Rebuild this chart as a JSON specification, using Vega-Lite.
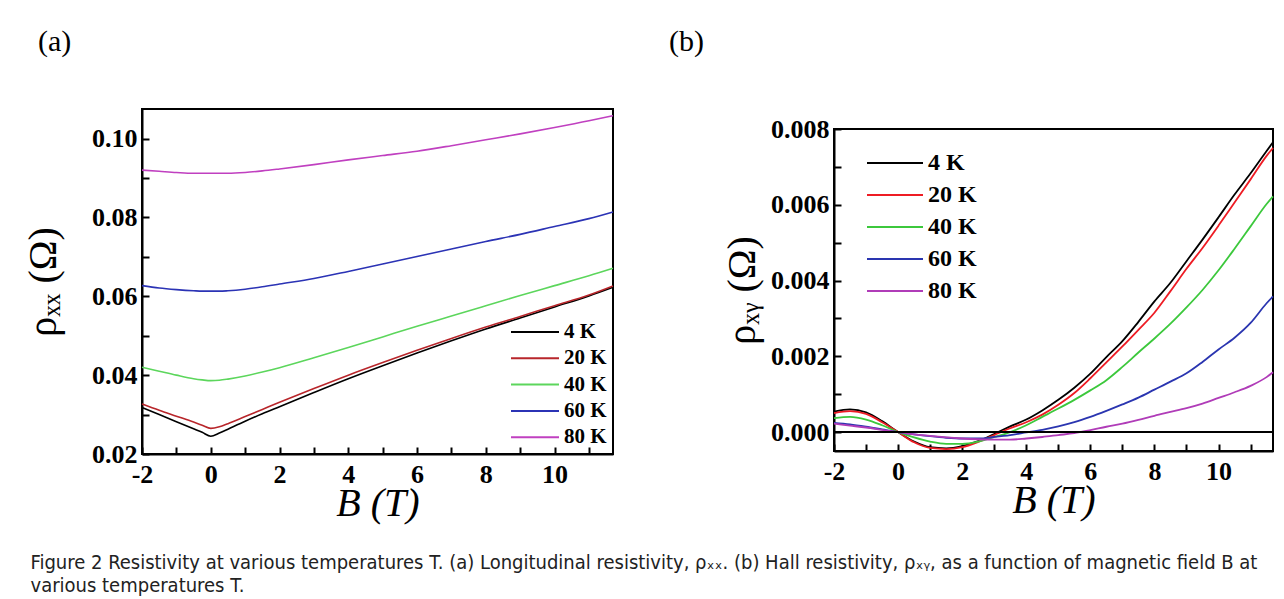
{
  "$schema": "https://vega.github.io/schema/vega-lite/v6.json",
  "background": "white",
  "padding": {"left": 22, "top": 26, "right": 2, "bottom": 2},
  "config": {
    "view": {"stroke": "black", "strokeWidth": 2},
    "axis": {
      "grid": false, "domainColor": "black", "domainWidth": 2, "tickColor": "black", "tickWidth": 2, "tickSize": -7,
      "labelFont": "Liberation Serif", "labelFontSize": 26, "labelFontWeight": "bold", "labelColor": "black",
      "labelFlush": false, "labelOverlap": false, "labelBound": false,
      "titleFont": "Liberation Serif", "titleFontWeight": "normal", "titleColor": "black"
    },
    "title": {"font": "Liberation Serif", "fontWeight": "normal", "color": "black"}
  },
  "title": {
    "text": ["Figure 2 Resistivity at various temperatures T. (a) Longitudinal resistivity, ρₓₓ. (b) Hall resistivity, ρₓᵧ, as a function of magnetic field B at", "various temperatures T."],
    "orient": "bottom", "anchor": "start", "frame": "bounds",
    "font": "Liberation Sans Narrow, DejaVu Sans Condensed, sans-serif", "fontSize": 20, "fontWeight": "normal",
    "color": "#222222", "offset": 29, "lineHeight": 23, "dx": 8
  },
  "datasets": {
    "a": [
      {"B": -2, "T": "4 K", "rho": 0.0318}, {"B": -1.5, "T": "4 K", "rho": 0.0300}, {"B": -1, "T": "4 K", "rho": 0.0282}, {"B": -0.5, "T": "4 K", "rho": 0.0264}, {"B": -0.25, "T": "4 K", "rho": 0.0255}, {"B": 0, "T": "4 K", "rho": 0.0245}, {"B": 0.25, "T": "4 K", "rho": 0.0253}, {"B": 0.5, "T": "4 K", "rho": 0.0263}, {"B": 1, "T": "4 K", "rho": 0.0283}, {"B": 1.5, "T": "4 K", "rho": 0.0302}, {"B": 2, "T": "4 K", "rho": 0.0320}, {"B": 3, "T": "4 K", "rho": 0.0356}, {"B": 4, "T": "4 K", "rho": 0.0391}, {"B": 5, "T": "4 K", "rho": 0.0424}, {"B": 6, "T": "4 K", "rho": 0.0456}, {"B": 7, "T": "4 K", "rho": 0.0487}, {"B": 8, "T": "4 K", "rho": 0.0517}, {"B": 9, "T": "4 K", "rho": 0.0545}, {"B": 10, "T": "4 K", "rho": 0.0573}, {"B": 11, "T": "4 K", "rho": 0.0601}, {"B": 11.7, "T": "4 K", "rho": 0.0623},
      {"B": -2, "T": "20 K", "rho": 0.0327}, {"B": -1.5, "T": "20 K", "rho": 0.0311}, {"B": -1, "T": "20 K", "rho": 0.0296}, {"B": -0.5, "T": "20 K", "rho": 0.0281}, {"B": -0.25, "T": "20 K", "rho": 0.0273}, {"B": 0, "T": "20 K", "rho": 0.0265}, {"B": 0.25, "T": "20 K", "rho": 0.0269}, {"B": 0.5, "T": "20 K", "rho": 0.0277}, {"B": 1, "T": "20 K", "rho": 0.0295}, {"B": 1.5, "T": "20 K", "rho": 0.0313}, {"B": 2, "T": "20 K", "rho": 0.0331}, {"B": 3, "T": "20 K", "rho": 0.0366}, {"B": 4, "T": "20 K", "rho": 0.0400}, {"B": 5, "T": "20 K", "rho": 0.0432}, {"B": 6, "T": "20 K", "rho": 0.0463}, {"B": 7, "T": "20 K", "rho": 0.0493}, {"B": 8, "T": "20 K", "rho": 0.0522}, {"B": 9, "T": "20 K", "rho": 0.0549}, {"B": 10, "T": "20 K", "rho": 0.0576}, {"B": 11, "T": "20 K", "rho": 0.0603}, {"B": 11.7, "T": "20 K", "rho": 0.0626},
      {"B": -2, "T": "40 K", "rho": 0.0420}, {"B": -1.5, "T": "40 K", "rho": 0.0410}, {"B": -1, "T": "40 K", "rho": 0.0400}, {"B": -0.5, "T": "40 K", "rho": 0.0391}, {"B": -0.25, "T": "40 K", "rho": 0.0388}, {"B": 0, "T": "40 K", "rho": 0.0386}, {"B": 0.25, "T": "40 K", "rho": 0.0387}, {"B": 0.5, "T": "40 K", "rho": 0.0390}, {"B": 1, "T": "40 K", "rho": 0.0398}, {"B": 1.5, "T": "40 K", "rho": 0.0408}, {"B": 2, "T": "40 K", "rho": 0.0419}, {"B": 3, "T": "40 K", "rho": 0.0444}, {"B": 4, "T": "40 K", "rho": 0.0470}, {"B": 5, "T": "40 K", "rho": 0.0497}, {"B": 6, "T": "40 K", "rho": 0.0524}, {"B": 7, "T": "40 K", "rho": 0.0550}, {"B": 8, "T": "40 K", "rho": 0.0576}, {"B": 9, "T": "40 K", "rho": 0.0602}, {"B": 10, "T": "40 K", "rho": 0.0627}, {"B": 11, "T": "40 K", "rho": 0.0652}, {"B": 11.7, "T": "40 K", "rho": 0.0671},
      {"B": -2, "T": "60 K", "rho": 0.0627}, {"B": -1.5, "T": "60 K", "rho": 0.0621}, {"B": -1, "T": "60 K", "rho": 0.0617}, {"B": -0.5, "T": "60 K", "rho": 0.0614}, {"B": -0.25, "T": "60 K", "rho": 0.0613}, {"B": 0, "T": "60 K", "rho": 0.0613}, {"B": 0.25, "T": "60 K", "rho": 0.0613}, {"B": 0.5, "T": "60 K", "rho": 0.0614}, {"B": 1, "T": "60 K", "rho": 0.0618}, {"B": 1.5, "T": "60 K", "rho": 0.0624}, {"B": 2, "T": "60 K", "rho": 0.0631}, {"B": 3, "T": "60 K", "rho": 0.0645}, {"B": 4, "T": "60 K", "rho": 0.0663}, {"B": 5, "T": "60 K", "rho": 0.0682}, {"B": 6, "T": "60 K", "rho": 0.0701}, {"B": 7, "T": "60 K", "rho": 0.0720}, {"B": 8, "T": "60 K", "rho": 0.0739}, {"B": 9, "T": "60 K", "rho": 0.0757}, {"B": 10, "T": "60 K", "rho": 0.0777}, {"B": 11, "T": "60 K", "rho": 0.0797}, {"B": 11.7, "T": "60 K", "rho": 0.0814},
      {"B": -2, "T": "80 K", "rho": 0.0920}, {"B": -1.5, "T": "80 K", "rho": 0.0917}, {"B": -1, "T": "80 K", "rho": 0.0914}, {"B": -0.5, "T": "80 K", "rho": 0.0912}, {"B": -0.25, "T": "80 K", "rho": 0.0912}, {"B": 0, "T": "80 K", "rho": 0.0912}, {"B": 0.25, "T": "80 K", "rho": 0.0912}, {"B": 0.5, "T": "80 K", "rho": 0.0912}, {"B": 1, "T": "80 K", "rho": 0.0914}, {"B": 1.5, "T": "80 K", "rho": 0.0918}, {"B": 2, "T": "80 K", "rho": 0.0923}, {"B": 3, "T": "80 K", "rho": 0.0934}, {"B": 4, "T": "80 K", "rho": 0.0946}, {"B": 5, "T": "80 K", "rho": 0.0957}, {"B": 6, "T": "80 K", "rho": 0.0968}, {"B": 7, "T": "80 K", "rho": 0.0982}, {"B": 8, "T": "80 K", "rho": 0.0997}, {"B": 9, "T": "80 K", "rho": 0.1012}, {"B": 10, "T": "80 K", "rho": 0.1028}, {"B": 11, "T": "80 K", "rho": 0.1045}, {"B": 11.7, "T": "80 K", "rho": 0.1058}
    ],
    "b": [
      {"B": -2, "T": "4 K", "rho": 0.00054}, {"B": -1.5, "T": "4 K", "rho": 0.0006}, {"B": -1, "T": "4 K", "rho": 0.00052}, {"B": -0.5, "T": "4 K", "rho": 0.00029}, {"B": 0, "T": "4 K", "rho": 0}, {"B": 0.5, "T": "4 K", "rho": -0.00025}, {"B": 1, "T": "4 K", "rho": -0.0004}, {"B": 1.5, "T": "4 K", "rho": -0.00043}, {"B": 2, "T": "4 K", "rho": -0.00037}, {"B": 2.5, "T": "4 K", "rho": -0.00024}, {"B": 3, "T": "4 K", "rho": -0.00005}, {"B": 3.5, "T": "4 K", "rho": 0.00015}, {"B": 4, "T": "4 K", "rho": 0.00033}, {"B": 4.5, "T": "4 K", "rho": 0.00057}, {"B": 5, "T": "4 K", "rho": 0.00085}, {"B": 5.5, "T": "4 K", "rho": 0.00117}, {"B": 6, "T": "4 K", "rho": 0.00154}, {"B": 6.5, "T": "4 K", "rho": 0.00198}, {"B": 7, "T": "4 K", "rho": 0.0024}, {"B": 7.5, "T": "4 K", "rho": 0.00291}, {"B": 8, "T": "4 K", "rho": 0.00345}, {"B": 8.5, "T": "4 K", "rho": 0.00394}, {"B": 9, "T": "4 K", "rho": 0.00451}, {"B": 9.5, "T": "4 K", "rho": 0.00508}, {"B": 10, "T": "4 K", "rho": 0.00567}, {"B": 10.5, "T": "4 K", "rho": 0.00627}, {"B": 11, "T": "4 K", "rho": 0.00683}, {"B": 11.5, "T": "4 K", "rho": 0.00742}, {"B": 11.7, "T": "4 K", "rho": 0.00765},
      {"B": -2, "T": "20 K", "rho": 0.0005}, {"B": -1.5, "T": "20 K", "rho": 0.00055}, {"B": -1, "T": "20 K", "rho": 0.00048}, {"B": -0.5, "T": "20 K", "rho": 0.00026}, {"B": 0, "T": "20 K", "rho": 0}, {"B": 0.5, "T": "20 K", "rho": -0.00027}, {"B": 1, "T": "20 K", "rho": -0.00042}, {"B": 1.5, "T": "20 K", "rho": -0.00045}, {"B": 2, "T": "20 K", "rho": -0.0004}, {"B": 2.5, "T": "20 K", "rho": -0.00026}, {"B": 3, "T": "20 K", "rho": -0.00008}, {"B": 3.5, "T": "20 K", "rho": 0.0001}, {"B": 4, "T": "20 K", "rho": 0.00026}, {"B": 4.5, "T": "20 K", "rho": 0.00046}, {"B": 5, "T": "20 K", "rho": 0.00072}, {"B": 5.5, "T": "20 K", "rho": 0.00103}, {"B": 6, "T": "20 K", "rho": 0.00142}, {"B": 6.5, "T": "20 K", "rho": 0.00184}, {"B": 7, "T": "20 K", "rho": 0.00226}, {"B": 7.5, "T": "20 K", "rho": 0.0027}, {"B": 8, "T": "20 K", "rho": 0.00315}, {"B": 8.5, "T": "20 K", "rho": 0.00372}, {"B": 9, "T": "20 K", "rho": 0.00431}, {"B": 9.5, "T": "20 K", "rho": 0.00486}, {"B": 10, "T": "20 K", "rho": 0.00545}, {"B": 10.5, "T": "20 K", "rho": 0.00606}, {"B": 11, "T": "20 K", "rho": 0.00667}, {"B": 11.5, "T": "20 K", "rho": 0.00729}, {"B": 11.7, "T": "20 K", "rho": 0.0075},
      {"B": -2, "T": "40 K", "rho": 0.00037}, {"B": -1.5, "T": "40 K", "rho": 0.0004}, {"B": -1, "T": "40 K", "rho": 0.00033}, {"B": -0.5, "T": "40 K", "rho": 0.00018}, {"B": 0, "T": "40 K", "rho": 0}, {"B": 0.5, "T": "40 K", "rho": -0.00014}, {"B": 1, "T": "40 K", "rho": -0.00025}, {"B": 1.5, "T": "40 K", "rho": -0.00031}, {"B": 2, "T": "40 K", "rho": -0.00031}, {"B": 2.5, "T": "40 K", "rho": -0.00025}, {"B": 3, "T": "40 K", "rho": -0.00013}, {"B": 3.5, "T": "40 K", "rho": 0}, {"B": 4, "T": "40 K", "rho": 0.00018}, {"B": 4.5, "T": "40 K", "rho": 0.0004}, {"B": 5, "T": "40 K", "rho": 0.00062}, {"B": 5.5, "T": "40 K", "rho": 0.00085}, {"B": 6, "T": "40 K", "rho": 0.0011}, {"B": 6.5, "T": "40 K", "rho": 0.00137}, {"B": 7, "T": "40 K", "rho": 0.00172}, {"B": 7.5, "T": "40 K", "rho": 0.0021}, {"B": 8, "T": "40 K", "rho": 0.00247}, {"B": 8.5, "T": "40 K", "rho": 0.00286}, {"B": 9, "T": "40 K", "rho": 0.00329}, {"B": 9.5, "T": "40 K", "rho": 0.00375}, {"B": 10, "T": "40 K", "rho": 0.00427}, {"B": 10.5, "T": "40 K", "rho": 0.00484}, {"B": 11, "T": "40 K", "rho": 0.00543}, {"B": 11.5, "T": "40 K", "rho": 0.00602}, {"B": 11.7, "T": "40 K", "rho": 0.00622},
      {"B": -2, "T": "60 K", "rho": 0.00024}, {"B": -1.5, "T": "60 K", "rho": 0.0002}, {"B": -1, "T": "60 K", "rho": 0.00014}, {"B": -0.5, "T": "60 K", "rho": 0.00007}, {"B": 0, "T": "60 K", "rho": 0}, {"B": 0.5, "T": "60 K", "rho": -0.00006}, {"B": 1, "T": "60 K", "rho": -0.00011}, {"B": 1.5, "T": "60 K", "rho": -0.00015}, {"B": 2, "T": "60 K", "rho": -0.00017}, {"B": 2.5, "T": "60 K", "rho": -0.00017}, {"B": 3, "T": "60 K", "rho": -0.00013}, {"B": 3.5, "T": "60 K", "rho": -0.00008}, {"B": 4, "T": "60 K", "rho": -0.00001}, {"B": 4.5, "T": "60 K", "rho": 0.00006}, {"B": 5, "T": "60 K", "rho": 0.00015}, {"B": 5.5, "T": "60 K", "rho": 0.00026}, {"B": 6, "T": "60 K", "rho": 0.0004}, {"B": 6.5, "T": "60 K", "rho": 0.00056}, {"B": 7, "T": "60 K", "rho": 0.00073}, {"B": 7.5, "T": "60 K", "rho": 0.00091}, {"B": 8, "T": "60 K", "rho": 0.00112}, {"B": 8.5, "T": "60 K", "rho": 0.00133}, {"B": 9, "T": "60 K", "rho": 0.00155}, {"B": 9.5, "T": "60 K", "rho": 0.00185}, {"B": 10, "T": "60 K", "rho": 0.00218}, {"B": 10.5, "T": "60 K", "rho": 0.00249}, {"B": 11, "T": "60 K", "rho": 0.00288}, {"B": 11.5, "T": "60 K", "rho": 0.0034}, {"B": 11.7, "T": "60 K", "rho": 0.00358},
      {"B": -2, "T": "80 K", "rho": 0.00022}, {"B": -1.5, "T": "80 K", "rho": 0.00017}, {"B": -1, "T": "80 K", "rho": 0.00012}, {"B": -0.5, "T": "80 K", "rho": 0.00006}, {"B": 0, "T": "80 K", "rho": 0}, {"B": 0.5, "T": "80 K", "rho": -0.00006}, {"B": 1, "T": "80 K", "rho": -0.0001}, {"B": 1.5, "T": "80 K", "rho": -0.00014}, {"B": 2, "T": "80 K", "rho": -0.00017}, {"B": 2.5, "T": "80 K", "rho": -0.00019}, {"B": 3, "T": "80 K", "rho": -0.0002}, {"B": 3.5, "T": "80 K", "rho": -0.0002}, {"B": 4, "T": "80 K", "rho": -0.00017}, {"B": 4.5, "T": "80 K", "rho": -0.00013}, {"B": 5, "T": "80 K", "rho": -0.00008}, {"B": 5.5, "T": "80 K", "rho": -0.00003}, {"B": 6, "T": "80 K", "rho": 0.00005}, {"B": 6.5, "T": "80 K", "rho": 0.00014}, {"B": 7, "T": "80 K", "rho": 0.00022}, {"B": 7.5, "T": "80 K", "rho": 0.00032}, {"B": 8, "T": "80 K", "rho": 0.00043}, {"B": 8.5, "T": "80 K", "rho": 0.00053}, {"B": 9, "T": "80 K", "rho": 0.00063}, {"B": 9.5, "T": "80 K", "rho": 0.00075}, {"B": 10, "T": "80 K", "rho": 0.0009}, {"B": 10.5, "T": "80 K", "rho": 0.00105}, {"B": 11, "T": "80 K", "rho": 0.00122}, {"B": 11.5, "T": "80 K", "rho": 0.00145}, {"B": 11.7, "T": "80 K", "rho": 0.00158}
    ]
  },
  "spacing": 51,
  "resolve": {"scale": {"color": "independent", "x": "independent", "y": "independent"}, "legend": {"color": "independent"}},
  "hconcat": [
    {
      "width": 471, "height": 345,
      "title": {"text": "(a)", "anchor": "start", "frame": "group", "dx": -104, "fontSize": 30, "offset": 52},
      "data": {"name": "a"},
      "mark": {"type": "line", "strokeWidth": 1.6, "interpolate": "monotone"},
      "encoding": {
        "x": {"field": "B", "type": "quantitative", "scale": {"domain": [-2, 11.7], "nice": false, "zero": false},
          "axis": {"title": "B (T)", "titleFontSize": 40, "titleFontStyle": "italic", "titlePadding": -4, "labelPadding": 14,
            "values": [-2, -1, 0, 1, 2, 3, 4, 5, 6, 7, 8, 9, 10, 11],
            "labelExpr": "datum.value % 2 == 0 ? '' + datum.value : ''"}},
        "y": {"field": "rho", "type": "quantitative", "scale": {"domain": [0.02, 0.1075], "nice": false, "zero": false},
          "axis": {"title": "ρₓₓ (Ω)", "titleFontSize": 40, "titlePadding": 28, "labelPadding": 12,
            "values": [0.02, 0.03, 0.04, 0.05, 0.06, 0.07, 0.08, 0.09, 0.1],
            "labelExpr": "round(datum.value * 100) % 2 == 0 ? format(datum.value, '.2f') : ''"}},
        "color": {"field": "T", "type": "nominal",
          "scale": {"domain": ["4 K", "20 K", "40 K", "60 K", "80 K"], "range": ["#000000", "#b8262b", "#5cd65c", "#2b33b5", "#c040c0"]},
          "legend": {"title": null, "orient": "none", "legendX": 380, "legendY": 210, "symbolType": "M-2,0H2", "symbolSize": 576,
            "symbolStrokeWidth": 2, "labelFont": "Liberation Serif", "labelFontSize": 21, "labelFontWeight": "bold", "labelColor": "black",
            "labelOffset": 16, "rowPadding": 3.3, "padding": 0}}
      }
    },
    {
      "title": {"text": "(b)", "anchor": "start", "frame": "group", "dx": -165, "fontSize": 30, "offset": 52},
      "spacing": 5,
      "vconcat": [
        {
          "width": 439, "height": 1,
          "view": {"stroke": null},
          "data": {"values": []},
          "mark": {"type": "point", "opacity": 0}
        },
        {
          "width": 439, "height": 322,
          "layer": [
            {
              "data": {"name": "b"},
              "mark": {"type": "line", "strokeWidth": 1.8, "interpolate": "monotone"},
              "encoding": {
                "x": {"field": "B", "type": "quantitative", "scale": {"domain": [-2, 11.7], "nice": false, "zero": false},
                  "axis": {"title": "B (T)", "titleFontSize": 40, "titleFontStyle": "italic", "titlePadding": -4, "labelPadding": 14,
                    "values": [-2, -1, 0, 1, 2, 3, 4, 5, 6, 7, 8, 9, 10, 11],
                    "labelExpr": "datum.value % 2 == 0 ? '' + datum.value : ''"}},
                "y": {"field": "rho", "type": "quantitative", "scale": {"domain": [-0.0005, 0.008], "nice": false, "zero": false},
                  "axis": {"title": "ρₓᵧ (Ω)", "titleFontSize": 40, "titlePadding": 8, "labelPadding": 12,
                    "values": [0, 0.001, 0.002, 0.003, 0.004, 0.005, 0.006, 0.007, 0.008],
                    "labelExpr": "round(datum.value * 1000) % 2 == 0 ? format(datum.value, '.3f') : ''"}},
                "color": {"field": "T", "type": "nominal",
                  "scale": {"domain": ["4 K", "20 K", "40 K", "60 K", "80 K"], "range": ["#000000", "#ee1c24", "#3cc83c", "#2a35b0", "#b03cb8"]},
                  "legend": {"title": null, "orient": "none", "legendX": 46, "legendY": 39, "symbolType": "M-2,0H2", "symbolSize": 784,
                    "symbolStrokeWidth": 2, "labelFont": "Liberation Serif", "labelFontSize": 24, "labelFontWeight": "bold", "labelColor": "black",
                    "labelOffset": 18, "rowPadding": 5, "padding": 0}}
              }
            },
            {
              "data": {"values": [{}]},
              "mark": {"type": "rule", "color": "black", "strokeWidth": 2},
              "encoding": {"y": {"datum": 0}}
            }
          ]
        }
      ]
    }
  ]
}
